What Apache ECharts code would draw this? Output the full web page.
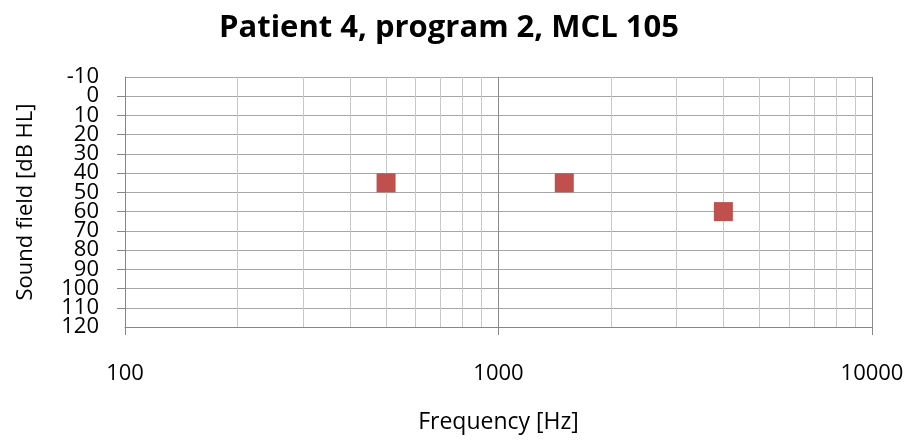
<!DOCTYPE html>
<html>
<head>
<meta charset="utf-8">
<script src="https://cdn.jsdelivr.net/npm/echarts@6/dist/echarts.min.js"></script>
<style>html,body{margin:0;padding:0;background:#fff;}#c{width:909px;height:440px;}</style>
</head>
<body>
<div id="c"></div>
<script>
const titleText = 'Patient 4, program 2, MCL 105';
const xAxisName = 'Frequency [Hz]';
const yAxisName = 'Sound field [dB HL]';
const frequencies = [500, 1500, 4000];
const levels = [45, 45, 60];
const minorFreqs = [200, 300, 400, 500, 600, 700, 800, 900, 2000, 3000, 4000, 5000, 6000, 7000, 8000, 9000];
const majorFreqs = [1000, 10000];
const yMin = -10, yMax = 120, yStep = 10;

const font = '"Open Sans", Lato, sans-serif';
const yLabelStyle = {fontFamily: font, fontSize: 22, color: '#000', margin: 26};
const chart = echarts.init(document.getElementById('c'), null, {renderer: 'canvas'});
chart.setOption({
  backgroundColor: '#fff',
  animation: false,
  title: {
    text: titleText, left: 214, top: 8,
    textStyle: {fontFamily: font, fontSize: 31, fontWeight: 'bold', color: '#000'}
  },
  grid: {left: 125, right: 37, top: 77, bottom: 113, containLabel: false},
  xAxis: {
    type: 'log', logBase: 10, min: 100, max: 10000,
    name: xAxisName, nameLocation: 'middle', nameGap: 84,
    nameTextStyle: {fontFamily: font, fontSize: 23, color: '#000'},
    axisLine: {show: true, onZero: false, lineStyle: {color: '#868686', width: 1}},
    axisTick: {show: true, length: 8, lineStyle: {color: '#868686'}},
    axisLabel: {fontFamily: font, fontSize: 22, color: '#000', margin: 36, formatter: v => String(v)},
    splitLine: {show: false},
    minorTick: {show: false}, minorSplitLine: {show: false}
  },
  yAxis: [
    {
      type: 'value', inverse: true, min: yMin, max: yMax, interval: yStep,
      name: yAxisName, nameLocation: 'middle', nameGap: 88, nameRotate: 90,
      nameTextStyle: {fontFamily: font, fontSize: 22, color: '#000'},
      axisLine: {show: true, lineStyle: {color: '#868686', width: 1}},
      axisTick: {show: true, length: 8, lineStyle: {color: '#868686'}},
      axisLabel: Object.assign({showMinLabel: false, showMaxLabel: false}, yLabelStyle),
      splitLine: {show: true, showMinLine: true, showMaxLine: true, lineStyle: {color: '#a6a6a6', width: 1}}
    },
    {
      type: 'value', inverse: true, min: yMin, max: yMax, interval: yStep, position: 'left',
      axisLine: {show: false}, axisTick: {show: false}, splitLine: {show: false},
      axisLabel: Object.assign({showMinLabel: true, showMaxLabel: true,
        formatter: v => (v === yMin || v === yMax) ? String(v) : ''}, yLabelStyle)
    }
  ],
  series: [
    {
      type: 'scatter',
      yAxisIndex: 0,
      data: frequencies.map((f, i) => [f, levels[i]]),
      symbol: 'rect', symbolSize: 19,
      itemStyle: {color: '#c0504d', opacity: 1},
      z: 10,
      markLine: {
        silent: true, symbol: ['none', 'none'], label: {show: false},
        animation: false,
        data: minorFreqs.map(f => ({xAxis: f, lineStyle: {color: '#c8c8c8', width: 1, type: 'solid'}}))
          .concat(majorFreqs.map(f => ({xAxis: f, lineStyle: {color: '#8c8c8c', width: 1, type: 'solid'}})))
      }
    }
  ]
});
</script>
</body>
</html>
